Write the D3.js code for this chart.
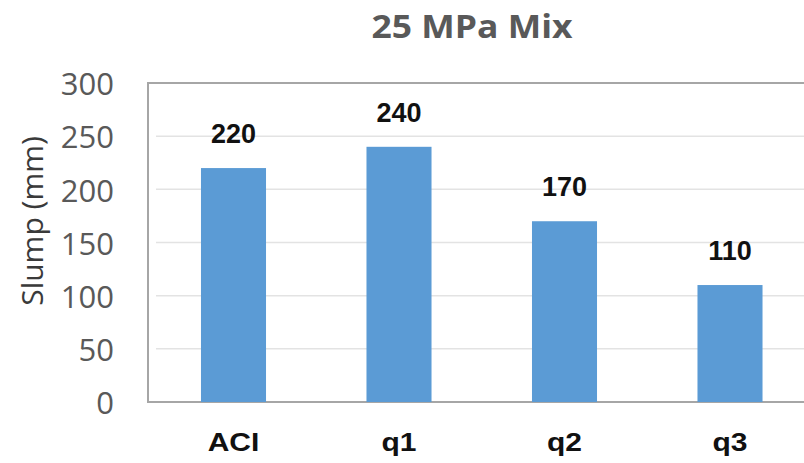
<!DOCTYPE html>
<html><head><meta charset="utf-8">
<script src="https://cdn.jsdelivr.net/npm/d3@7"></script>
<style>body{margin:0;background:#fff}svg{display:block}</style>
</head><body>
<svg id="c" width="804" height="463"></svg>
<script>
const categories = ["ACI","q1","q2","q3"];
const values = [220,240,170,110];
const yTicks = [0,50,100,150,200,250,300];
const title = "25 MPa Mix";
const yTitle = "Slump (mm)";

const svg = d3.select("#c");
const x = d3.scaleBand().domain(categories).range([150.75, 812.75]).paddingInner(0.607).paddingOuter(0.3035);
const y = d3.scaleLinear().domain([0,300]).range([402,83]);

// gridlines
svg.append("g").selectAll("line").data(yTicks.filter(d=>d>0&&d<300)).join("line")
  .attr("x1",156).attr("x2",804).attr("y1",d=>y(d)).attr("y2",d=>y(d))
  .attr("stroke","#e3e3e3").attr("stroke-width",1.5);

// frame
svg.append("path").attr("d",`M810,${y(300)}H148V${y(0)}H810`).attr("fill","none")
  .attr("stroke","#a6a6a6").attr("stroke-width",2);

// bars
svg.append("g").selectAll("rect").data(values).join("rect")
  .attr("x",(d,i)=>x(categories[i])).attr("width",x.bandwidth())
  .attr("y",d=>y(d)).attr("height",d=>y(0)-y(d)).attr("fill","#5b9bd5");

// value labels
svg.append("g").selectAll("text").data(values).join("text")
  .attr("x",(d,i)=>x(categories[i])+x.bandwidth()/2).attr("y",d=>y(d)-25)
  .attr("text-anchor","middle").attr("font-family","Liberation Sans, Arial, sans-serif")
  .attr("font-weight","bold").attr("font-size",27).attr("fill","#111").text(d=>d);

// y axis
const ya = d3.axisLeft(y).tickValues(yTicks).tickSize(0).tickPadding(0);
const yg = svg.append("g").attr("transform","translate(114,0)").call(ya);
yg.select(".domain").remove();
yg.selectAll("text").attr("font-family","Open Sans, sans-serif").attr("font-size",31)
  .attr("fill","#595959").attr("dy","0.38em");

// x axis
const xa = d3.axisBottom(x).tickSize(0).tickPadding(0);
const xg = svg.append("g").attr("transform","translate(0,451)").call(xa);
xg.select(".domain").remove();
xg.selectAll("text").attr("font-family","Liberation Sans, Arial, sans-serif").attr("font-weight","bold")
  .attr("font-size",25).attr("fill","#111").attr("dy",0)
  .attr("transform","scale(1.2,1)");

// titles
svg.append("text").attr("x",472).attr("y",38).attr("text-anchor","middle")
  .attr("font-family","Open Sans, sans-serif").attr("font-weight",700).attr("font-size",33)
  .attr("textLength",201).attr("lengthAdjust","spacingAndGlyphs")
  .attr("fill","#595959").text(title);
svg.append("text").attr("transform","translate(43,221) rotate(-90)").attr("text-anchor","middle")
  .attr("font-family","Open Sans, sans-serif").attr("font-size",30)
  .attr("fill","#3a3a3a").text(yTitle);
</script>
</body></html>
